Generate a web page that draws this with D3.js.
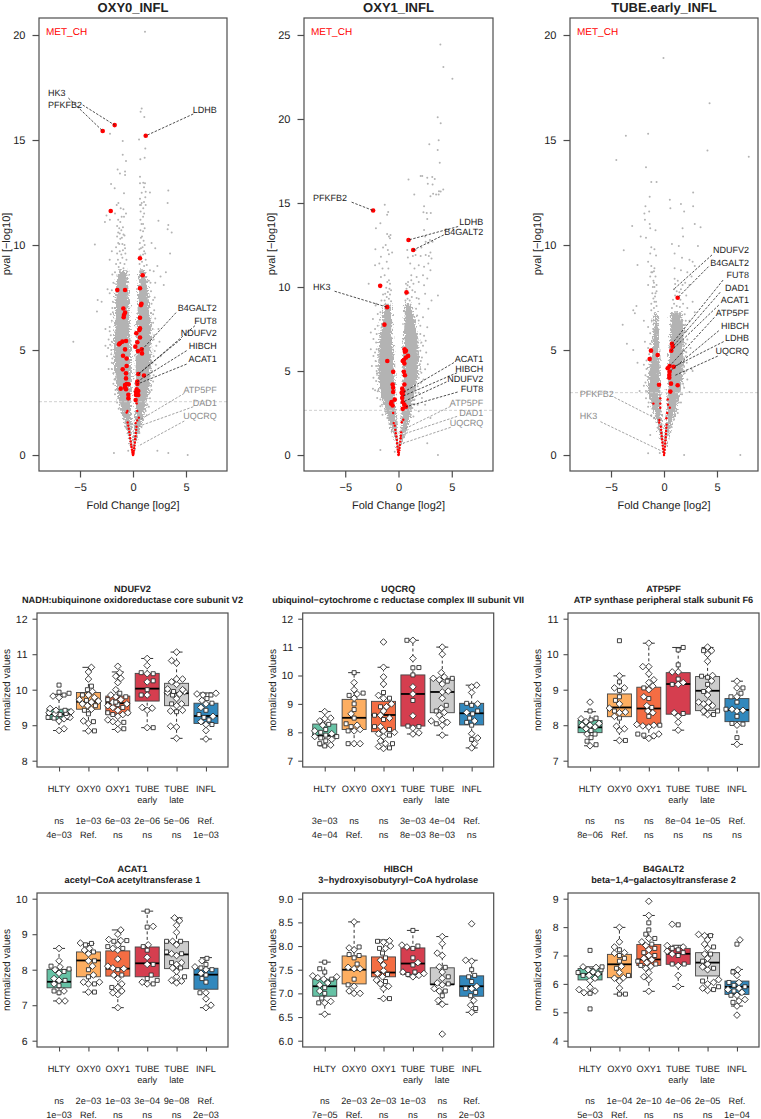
<!DOCTYPE html>
<html><head><meta charset="utf-8">
<script src="https://cdn.jsdelivr.net/npm/d3@7/dist/d3.min.js"></script>
<style>html,body{margin:0;background:#fff}svg{display:block}text{font-family:"Liberation Sans",Arial,sans-serif;fill:#222;text-rendering:geometricPrecision}</style>
</head><body><svg id="c" width="761" height="1119"><defs><filter id="rough" x="-20%" y="-5%" width="140%" height="110%"><feTurbulence type="fractalNoise" baseFrequency="0.55" numOctaves="2" seed="3" result="n"/><feDisplacementMap in="SourceGraphic" in2="n" scale="9" xChannelSelector="R" yChannelSelector="G"/></filter></defs></svg>
<script>
// ---------- volcano data: [log2 fold change, -log10 p] ----------
// dense part of each cloud is kept as an envelope (too many dots to read one by one)
const oxy0Levels=[0,.5,1,1.5,2,3,4,5,6,7,8,8.8];
const oxy0LeftOuter=[0,-.25,-.5,-.75,-1.05,-1.5,-1.75,-1.85,-1.75,-1.7,-1.6,-1.4];
const oxy0LeftInner=[0,-.06,-.12,-.16,-.18,-.2,-.2,-.18,-.3,-.35,-.44,-.55];
const oxy0RightInner=[0,.06,.11,.16,.2,.25,.25,.25,.35,.44,.5,.6];
const oxy0RightOuter=[0,.25,.5,.82,1.04,1.5,1.72,1.72,1.72,1.55,1.4,1.15];
const oxy0Gray=[[1.13,20.16],[.82,16.5],[.72,16.35],[1.07,16.1],[-2.17,15.3],[.57,15.03],[-.97,14.95],[-.97,14.3],[-.66,14],[1.16,14.6],[1.1,14.16],[.69,14.08],[-1.45,13.6],[-.75,13.5],[-.75,13.33],[-1.23,13.4],[.66,13.25],[.66,12.94],[.97,12.97],[1.13,12.94],[-2.07,12.9],[-1.73,12.7],[-.85,12.46],[3.33,12.6],[1.6,12.5],[1.2,12.54],[.82,12.49],[1.04,12.75],[.66,12.2],[1.16,12.27],[3.27,12],[.82,12],[1.04,12.05],[.66,11.9],[.97,11.75],[.72,11.6],[1.2,11.9],[-1.38,12],[-1.16,11.75],[-1.54,11.9],[-1.07,11.35],[-1.7,11.5],[-2.5,11.4],[-2.65,11.1],[-2.18,11.2],[-.66,11.5],[-.85,11.35],[2.4,11.16],[3.33,10.95],[3.27,10.75],[3.65,10.6],[-3.6,10.03],[-1.5,10.9],[-1.3,10.8],[-1.4,10.6],[-1.1,10.7],[-1.5,10.4],[-1.2,10.3],[-.9,10.5],[-1.4,10.1],[-1,10.05],[-1.6,9.9],[-.8,10],[.7,11.2],[.95,11],[1.1,10.8],[.7,10.7],[.85,10.4],[1,10.2],[.65,10.1],[.9,9.9],[1.05,9.7],[.6,9.8],[1.75,10.1],[2.1,9.85],[3.5,9.6],[-2.2,9.3],[-2,9.7],[2.3,9],[3.1,8.7],[2.6,8.5],[2.1,8.2],[2.9,8.1],[1.95,8.75],[-2.4,7.9],[-2.2,7.7],[-3.33,7.38],[-2.96,7.3],[-3.4,6.83],[1.9,7.38],[2,6.9],[2.05,7.5],[2.1,6.5],[1.9,6.3],[-2.1,6.7],[-2.2,6.1],[-5.63,5.4],[-2.3,5.5],[-2.35,5.1],[-2.05,4.8],[-2.2,5.9],[2,5.7],[2.2,5.2],[1.95,4.7],[2.15,4.3],[1.8,4],[-2,4.4],[-1.85,3.9],[-1.85,3.4],[1.9,3.5],[1.75,3.1],[-1.7,2.9],[-1.5,2.5],[-1.35,2.2],[1.6,2.7],[1.5,2.3],[1.3,1.9],[-1.8,.1],[3.33,.1],[5.16,0],[-.45,.2],[2.3,.2]];
const oxy0Fringe=[[-1.6,9.1],[-1.42,9.3],[-1.2,9.15],[-1,9.4],[-.8,9.1],[-.62,9.3],[-1.5,9.6],[-1.25,9.7],[-.95,9.75],[-.72,9.6],[-1.35,8.95],[-.9,8.9],[-1.1,9.55],[-.75,9.85],[-1.3,10.05],[-1.05,10.35],[-.8,10.45],[-1.25,10.55],[-.95,10.85],[-1.2,11.1],[-1.4,11.2],[-.9,11.7],[.62,9.1],[.85,9.2],[1.05,9],[1.2,9.3],[.7,9.5],[.95,9.55],[1.15,9.6],[.75,9.85],[1.3,9.05],[1.1,10],[.75,10.35],[.95,10.65],[.8,11],[.95,11.35],[.75,11.9],[1.05,11.5],[-1.95,8.6],[-1.85,8.2],[-2,7.85],[-1.9,7.3],[-1.95,7],[-2,6.4],[-2.1,5.7],[-2.15,5.25],[-2.05,5],[-1.95,4.6],[-2,4.1],[-1.75,3.6],[-1.65,3.1],[-1.4,2.7],[-1.25,2.4],[-1,2],[-.85,1.7],[-.7,1.35],[-1.7,8.7],[-1.9,6.8],[-2,5.4],[1.6,8.8],[1.5,8.3],[1.7,7.8],[1.75,7.2],[1.9,6.7],[1.85,6],[1.95,5.5],[2.05,4.95],[1.85,4.4],[1.95,3.8],[1.7,3.3],[1.6,3],[1.35,2.4],[1.2,2.1],[.95,1.7],[.8,1.35],[.6,1.05],[1.65,8.2],[2.4,6],[2.5,5.4],[2.6,4.7],[-2.6,5.2],[-2.45,4.7],[-2.3,4.1],[-2.6,6]];
const oxy0Red=[[-2.86,15.43],[-1.73,15.71],[1.2,15.2],[-2.1,11.62],[.66,9.37],[.91,8.56],[.66,7.94],[-1.48,7.86],[-.75,7.86],[.8,7.2],[.75,7.14],[-.91,6.98],[-.75,6.78],[-.85,6.67],[-.88,6.56],[.66,6.54],[.66,6.03],[.6,5.95],[.31,5.8],[.66,5.6],[-.66,5.43],[-1,5.4],[-1.23,5.32],[-1.32,5.27],[.41,5.37],[.22,5.16],[-.75,5.03],[.82,5.03],[.47,4.95],[.85,4.84],[-.94,4.73],[-.6,4.6],[-.97,4.08],[-.6,4.24],[-.66,3.89],[-.66,3.65],[.5,3.86],[1.04,3.79],[.41,3.5],[.41,3.38],[-.75,3.33],[-.6,3.38],[-.41,3.37],[-.75,3.22],[-.66,3.13],[-1.16,3.16],[.35,3.13],[.28,3],[.5,3.05],[.28,2.86],[.5,2.86],[-.44,2.87],[-.44,2.7],[.25,2.62],[.35,2.46],[-.53,2.1],[-.6,2.02],[.4,2.1],[.55,1.78],[.4,1.65],[.25,1.52],[-.5,1.55],[-.45,1.4],[-.4,1.25],[-.35,1.1],[-.3,.95],[-.27,.8],[-.22,.65],[-.18,.5],[-.14,.38],[-.1,.25],[-.06,.15],[-.03,.06],[.33,1.35],[.3,1.2],[.27,1.05],[.24,.9],[.2,.75],[.17,.6],[.14,.45],[.11,.32],[.08,.2],[.05,.1],[.02,.03],[0,0]];
const oxy0Labels=[["HK3",-8.02,17.26,-6.1,17,-2.86,15.43,"start",1],["PFKFB2",-8.02,16.67,-4.75,16.67,-1.73,15.71,"start",1],["LDHB",7.9,16.43,5.69,16.24,1.2,15.2,"end",1],["B4GALT2",7.9,7,4.06,6.78,.82,5,"end",1],["FUT8",7.9,6.38,5.85,6.16,.44,3.81,"end",1],["NDUFV2",7.9,5.8,4.53,5.52,.5,3.86,"end",1],["HIBCH",7.9,5.19,5.06,4.97,.41,3.5,"end",1],["ACAT1",7.9,4.57,5.06,4.33,.41,3.38,"end",1],["ATP5PF",7.9,3.1,4.84,2.94,.5,1.63,"end",0],["DAD1",7.9,2.49,5.69,2.3,.6,1.38,"end",0],["UQCRQ",7.9,1.86,4.84,1.62,.5,.43,"end",0]];

const oxy1Levels=[0,1,2,3,4,5,6,7,8,9];
const oxy1LeftOuter=[0,-.35,-.9,-1.4,-1.8,-1.9,-1.9,-1.8,-1.54,-1.35];
const oxy1LeftInner=[0,-.08,-.18,-.26,-.33,-.38,-.45,-.58,-.6,-.66];
const oxy1RightInner=[0,.12,.26,.33,.38,.4,.4,.5,.57,.6];
const oxy1RightOuter=[0,.5,1,1.3,1.6,1.9,1.9,1.85,1.55,1.2];
const oxy1Gray=[[3.93,24.44],[4.21,23.1],[5.06,22.4],[3.68,20.1],[3.96,19.75],[3.77,18.73],[2.89,18.5],[3.68,18.15],[3.87,17.4],[2.08,16.6],[2.23,16.6],[2.7,16.5],[3.17,16.55],[3.4,16.43],[.94,16.4],[2.75,16.15],[3.2,16.1],[1.48,15.5],[4.2,15.8],[3.8,15.7],[3.96,15.68],[3.25,15.55],[3.53,15.5],[3,15.4],[3.77,15.5],[2.4,14.8],[-1.29,14.9],[-.97,14.46],[-1.07,14.3],[2.34,14.45],[2.65,14.4],[3.03,14.4],[2.7,14.05],[-1.7,13.8],[-2.12,13.5],[2.4,13.4],[-1.07,13.15],[-.75,13.1],[-.9,13],[-.8,12.9],[2.5,13],[2.95,12.8],[3.2,12.7],[2.8,12.6],[2.55,12.7],[2.15,12.35],[-2.17,12.25],[-1.45,12.35],[-1.2,12.5],[-1,12.2],[-.6,12.05],[-.9,11.95],[-1.65,11.8],[.88,11.75],[1.35,11.85],[1.6,11.9],[2.08,11.85],[2.55,11.9],[2.85,11.85],[3,12.05],[.82,12.2],[1.6,12.2],[-2.2,11.3],[-1.8,11.4],[-1.5,11.1],[-1.1,11.5],[-.95,11.1],[-1.3,10.7],[-2.8,10.2],[-1.65,10.6],[-.9,10.4],[1.1,11.4],[1.5,11.1],[1.9,11.3],[2.4,11.2],[2.8,11.4],[3.1,11.7],[3,11],[1.2,10.7],[1.7,10.6],[2.3,10.7],[2.7,10.5],[.9,10.3],[1.4,10.2],[1.9,10.3],[2.4,10.1],[.85,10.1],[-2.1,9],[-1.95,8.4],[3.7,9.5],[3.1,9.2],[2.5,9.6],[1.9,9.3],[2.8,8.7],[2.3,8.2],[2.7,7.6],[2.4,7.1],[-2.4,8.1],[-2.2,7.5],[-2.35,6.9],[-2.6,6.3],[-2.2,6.1],[-2.35,5.9],[2.3,6.5],[2.6,6.1],[2.2,5.8],[2,5.4],[2.5,5.1],[2.15,4.9],[2.35,4.5],[2.1,4.3],[-2.1,5.3],[-2.35,4.6],[-2.4,3.95],[-2.2,3.85],[-2,3.4],[-1.7,2.9],[1.9,3.7],[2.2,3.4],[2.5,3],[1.8,3],[1.9,2.6],[-1.5,2.4],[1.4,2.3],[3,2.2],[2.7,.7],[-1.7,.3],[-.35,.2],[3.7,0]];
const oxy1Fringe=[[-1.3,9.2],[-1.1,9.4],[-.9,9.3],[-.7,9.15],[-1.25,9.6],[-1,9.7],[-.8,9.55],[-1.15,9.95],[-.85,9.9],[-.7,9.8],[-1.05,10.3],[-.8,10.2],[-1.45,9.55],[.65,9.2],[.85,9.3],[1.05,9.2],[1.25,9.4],[.7,9.55],[.95,9.65],[1.3,9.8],[.75,9.9],[1.05,10],[1.55,9.7],[1.7,9.35],[.7,10.2],[1.2,10.4],[-1.6,9.2],[-1.7,8.5],[-1.75,8.05],[-1.95,7.7],[-2.05,7.2],[-2.1,6.7],[-2.05,6.3],[-2.15,5.6],[-2.05,5],[-2.1,4.4],[-1.95,3.8],[-1.7,3.3],[-1.55,3],[-1.25,2.6],[-1.05,2.2],[-.85,1.85],[-.6,1.5],[1.65,8.7],[1.75,8.3],[1.9,8],[2.05,7.7],[2.05,7.2],[2.15,6.7],[2.05,6.2],[2.1,5.6],[2.05,5.1],[1.9,4.6],[1.8,4.1],[1.6,3.7],[1.5,3.3],[1.3,2.8],[1.15,2.4],[.9,1.85],[.75,1.5],[.6,1.2],[2.55,6.8],[2.75,5.4],[-2.5,5.3],[-2.6,7.3],[-2.15,8.9],[1.95,9]];
const oxy1Red=[[-2.38,14.55],[.94,12.8],[1.38,12.2],[-1.72,10.07],[.75,9.68],[-1.07,8.8],[-1.32,7.76],[.57,6.3],[.6,6.15],[.7,6.2],[.9,5.9],[.7,5.8],[.5,5.65],[.4,5.6],[.55,5.45],[-1.05,5.6],[-.5,4.95],[.5,4.95],[.6,4.75],[-.55,4.2],[-.5,4],[.55,4.2],[.35,3.95],[.45,3.8],[.3,3.7],[.4,3.6],[-.5,3.75],[-.35,3.3],[-.65,3.15],[-.7,3.05],[-.55,2.95],[.35,3.4],[.4,3.15],[.55,3],[.7,2.87],[.4,2.75],[-.5,2.5],[-.45,1.9],[-.35,1.75],[.45,2.1],[.3,1.95],[-.3,1.5],[-.25,1.3],[-.2,1.1],[-.16,.9],[-.13,.7],[-.1,.5],[-.07,.32],[-.04,.18],[.25,1.35],[.22,1.15],[.2,1],[.16,.8],[.13,.6],[.1,.42],[.07,.28],[.04,.14],[.01,.04],[0,0]];
const oxy1Labels=[["PFKFB2",-8.02,15.3,-4.4,15.05,-2.38,14.55,"start",1],["LDHB",7.95,13.85,5.6,13.6,.94,12.8,"end",1],["B4GALT2",7.95,13.3,4.25,13.1,1.38,12.2,"end",1],["HK3",-8.02,10,-6,9.75,-1.07,8.8,"start",1],["ACAT1",7.95,5.7,5.2,5.5,.5,3.75,"end",1],["HIBCH",7.95,5.15,5.5,4.9,.4,3.5,"end",1],["NDUFV2",7.95,4.55,4.5,4.35,.4,3.15,"end",1],["FUT8",7.95,3.95,5.55,3.75,.7,2.87,"end",1],["ATP5PF",7.95,3.1,4.9,2.9,.55,1.55,"end",0],["DAD1",7.95,2.5,5.5,2.3,.5,1.25,"end",0],["UQCRQ",7.95,1.9,4.9,1.65,.3,.68,"end",0]];

const tubeLevels=[0,1,2,3,4,5,6,6.8];
const tubeLeftOuter=[0,-.4,-.9,-1.55,-1.45,-1.15,-1,-.95];
const tubeLeftInner=[0,-.08,-.24,-.33,-.4,-.44,-.5,-.58];
const tubeRightInner=[0,.11,.26,.33,.42,.5,.58,.66];
const tubeRightOuter=[0,.45,1.07,1.55,1.85,1.85,1.85,1.65];
const tubeGray=[[-.05,18.9],[4.3,16.75],[-3.6,15.2],[-1.5,15.3],[4.1,14.5],[8,14.2],[-4.5,14.05],[-1.7,13.7],[-1.2,13],[-.7,13],[-1.35,12.3],[.55,12.15],[2.75,12.5],[1.6,11.95],[2.75,11.85],[-1.75,11.85],[-1.4,11.6],[-1.85,11.5],[.6,11.75],[1.9,11.6],[-1.8,11.2],[-1.35,11],[-1.3,10.8],[-.8,10.7],[2.9,11],[1.75,10.8],[3.45,10.85],[-3,10.9],[1.8,10.4],[-2.2,10.4],[-1.7,10.35],[.75,10.05],[1.4,9.95],[3.2,9.95],[-3.8,9.75],[-1.2,9.9],[-.9,9.8],[-1.3,9.6],[-.75,9.5],[1,9.6],[1.7,9.4],[2.4,9.3],[2.7,9.2],[2.9,9],[-2.5,9.05],[-1.5,9.2],[-1.2,9],[-.9,8.9],[-1.1,8.7],[-.8,8.5],[-1.3,8.5],[-1.5,8.1],[-1,8.3],[-.9,8],[1,8.9],[1.6,8.8],[2.2,8.7],[2.6,8.5],[1.3,8.3],[2,8.2],[2.4,8.1],[1.6,7.9],[1,8.4],[-.8,7.7],[-1.1,7.7],[-.9,7.3],[-.7,7.1],[-1.2,7.2],[-2.6,7.1],[-2.9,6.9],[-2.75,6.75],[2.1,7.6],[2.7,7.3],[2.2,7],[2.9,6.8],[2.4,6.4],[2,6.2],[-3.9,6.2],[-1.9,6.4],[-1.5,6.1],[-1.3,5.8],[-3.5,5.3],[-2.9,5],[-1.8,5.4],[-1.5,5.1],[2.2,5.5],[2.5,5.1],[2.05,4.7],[2.6,4.1],[-2.5,4.4],[-1.9,4.3],[-1.75,3.8],[-1.9,3.3],[-2.3,3.05],[2.1,4],[2.7,4],[2.2,3.6],[1.9,3.2],[2.4,3],[-1.7,2.7],[-1.5,2.3],[-1.2,1.9],[1.6,2.5],[1.3,2],[-1.3,.95],[-1.5,.08],[-.4,.1],[1.9,0],[7.2,0]];
const tubeFringe=[[-.95,7],[-.75,7.3],[-.85,7.55],[-.7,7.8],[-1,7.45],[-1.05,8],[-.95,8.2],[-.7,8.1],[-1.2,8.7],[-.95,8.75],[.75,7],[.95,7.2],[1.2,7.1],[1.5,7.05],[.85,7.4],[1.05,7.6],[1.55,7.4],[.95,7.9],[1.2,7.8],[1.45,7.75],[1.05,8.15],[1.75,8.1],[1.8,7.2],[-1.2,6.9],[-1.15,6.4],[-1.3,5.3],[-1.4,4.8],[-1.65,4.5],[-1.65,4.1],[-1.75,3.45],[-1.7,3.05],[-1.45,2.5],[-1.1,2.2],[-.95,1.75],[-.6,1.3],[1.95,6.7],[2.05,6.4],[2.1,5.9],[2.05,5.3],[2.1,4.9],[2.15,4.4],[1.95,3.9],[1.8,3.4],[1.7,2.9],[1.4,2.5],[1.15,2.1],[.95,1.7],[.7,1.35],[.6,1.1]];
const tubeRed=[[1.29,7.49],[.75,5.3],[.82,5.16],[.69,4.97],[-1.23,4.97],[-.6,4.76],[-1.35,4.57],[.53,4.24],[.35,4.13],[.91,4.2],[.53,3.97],[.5,3.81],[.5,3.68],[.66,3.4],[1.29,3.32],[-.47,3.35],[.6,3.02],[-1,2.45],[-.35,2.7],[-.35,2.45],[-.35,2.25],[.35,2.65],[.38,2.4],[.55,2.25],[.3,2],[.22,1.75],[-.45,1.67],[-.45,1.55],[-.3,1.35],[-.28,1.2],[-.25,1.05],[-.22,.9],[-.18,.75],[-.15,.6],[-.12,.45],[-.09,.3],[-.05,.16],[.25,1.45],[.22,1.3],[.2,1.15],[.18,1],[.16,.85],[.13,.7],[.11,.55],[.09,.4],[.06,.25],[.03,.1],[0,0]];
const tubeLabels=[["NDUFV2",8.02,9.79,4.53,9.53,.85,7.86,"end",1],["B4GALT2",8.02,9.16,4.2,8.97,1.29,7.49,"end",1],["FUT8",8.02,8.57,5.57,8.33,.75,5.3,"end",1],["DAD1",8.02,7.97,5.3,7.75,.82,5.16,"end",1],["ACAT1",8.02,7.38,5.17,7.14,.69,4.97,"end",1],["ATP5PF",8.02,6.78,4.75,6.55,.53,4.24,"end",1],["HIBCH",8.02,6.17,5.17,5.92,.53,3.97,"end",1],["LDHB",8.02,5.59,5.63,5.4,.91,4.2,"end",1],["UQCRQ",8.02,4.97,5.07,4.71,1.07,3.8,"end",1],["PFKFB2",-7.96,2.89,-4.69,2.75,-.5,1.67,"start",0],["HK3",-7.96,1.86,-6,1.59,-.1,.16,"start",0]];

const volcanoNames=["OXY0_INFL","OXY1_INFL","TUBE.early_INFL"];
const volcanoYTicks=[[0,5,10,15,20],[0,5,10,15,20,25],[0,5,10,15,20]];
const volcanoThresholds=[2.54,2.66,2.97];
const volcanoYTop=[20.81,26.01,20.81];
const volcanoYBottom=[-.76,-.95,-.76];
const fcTicks=[-5,0,5];

// ---------- boxplot data ----------
const groupLabels=[["HLTY"],["OXY0"],["OXY1"],["TUBE","early"],["TUBE","late"],["INFL"]];
const groupColors=["#66c2a5","#fdae61","#f46d43","#d53e4f","#cccccc","#3288bd"];
const geneNames=["NDUFV2","UQCRQ","ATP5PF","ACAT1","HIBCH","B4GALT2"];
const geneTitles=["NADH:ubiquinone oxidoreductase core subunit V2","ubiquinol\u2212cytochrome c reductase complex III subunit VII","ATP synthase peripheral stalk subunit F6","acetyl\u2212CoA acetyltransferase 1","3\u2212hydroxyisobutyryl\u2212CoA hydrolase","beta\u22121,4\u2212galactosyltransferase 2"];
const geneTicks=[[8,9,10,11,12],[7,8,9,10,11,12],[7,8,9,10,11],[6,7,8,9,10],[6,6.5,7,7.5,8,8.5,9],[4,5,6,7,8,9]];
const pRow1=[["ns","1e\u221203","6e\u221203","2e\u221206","5e\u221206","Ref."],["3e\u221203","ns","ns","3e\u221203","4e\u221204","Ref."],["ns","ns","ns","8e\u221204","1e\u221205","Ref."],["ns","2e\u221203","1e\u221203","3e\u221204","9e\u221208","Ref."],["ns","2e\u221203","2e\u221203","1e\u221203","ns","Ref."],["ns","1e\u221204","2e\u221210","4e\u221206","2e\u221205","Ref."]];
const pRow2=[["4e\u221203","Ref.","ns","ns","ns","1e\u221203"],["4e\u221204","Ref.","ns","8e\u221203","8e\u221203","ns"],["8e\u221206","Ref.","ns","ns","ns","ns"],["1e\u221203","Ref.","ns","ns","ns","2e\u221203"],["7e\u221205","Ref.","ns","ns","ns","2e\u221203"],["5e\u221203","Ref.","ns","ns","ns","1e\u221204"]];
// whisker low, Q1, median, Q3, whisker high
const boxNDUFV2=[[8.85,9.16,9.31,9.45,9.87],[8.84,9.45,9.66,9.92,10.63],[8.88,9.31,9.62,9.82,10.5],[8.93,9.68,10.03,10.46,10.88],[8.63,9.55,9.9,10.18,11.06],[8.61,9.05,9.26,9.62,9.91]];
const boxUQCRQ=[[7.52,7.88,7.88,8.29,8.73],[7.6,8.1,8.51,9.16,10.1],[7.43,8.02,8.61,9.09,10.29],[7.94,8.22,9.35,10.02,11.24],[7.9,8.69,9.42,9.9,11],[7.45,8.26,8.67,9.02,9.66]];
const boxATP5PF=[[7.42,7.79,7.94,8.13,8.38],[7.57,8.24,8.5,8.88,9.39],[7.63,8,8.47,9.07,10.31],[7.86,8.31,9.16,9.48,10.19],[8.29,8.41,8.97,9.37,10.19],[7.46,8.1,8.43,8.75,9.24]];
const boxACAT1=[[7.12,7.49,7.66,8.01,8.6],[7.37,7.8,8.26,8.5,8.74],[6.93,7.82,8.03,8.53,9.12],[7.6,7.8,8.18,8.64,9.65],[7.63,8.03,8.43,8.79,9.46],[6.93,7.45,7.86,8.04,8.34]];
const boxHIBCH=[[6.56,6.94,7.15,7.3,7.66],[7,7.2,7.5,7.79,8.51],[6.89,7.35,7.44,7.77,8.13],[7.35,7.4,7.63,7.96,8.33],[6.77,7.19,7.19,7.54,8.2],[6.6,6.94,7.15,7.37,7.7]];
const boxB4GALT2=[[5.69,6.14,6.34,6.54,6.6],[5.64,6.22,6.69,7.04,7.99],[5.74,6.65,6.86,7.39,8.41],[5.91,6.69,7.06,7.25,7.36],[5.77,6.28,6.75,7.1,7.74],[5.22,5.63,5.9,6.1,6.51]];
// per group: diamonds (one marker), squares (the other)
const diaNDUFV2=[[8.85,8.9,9.12,9.18,9.22,9.26,9.3,9.32,9.35,9.38,9.42,9.47,9.78,9.82],[8.84,9.05,9.12,9.45,9.55,9.6,9.65,9.68,9.72,9.78,9.85,9.95,10.3,10.5,10.63],[8.88,9.05,9.1,9.15,9.25,9.3,9.35,9.42,9.5,9.55,9.6,9.65,9.72,9.8,9.85,10,10.2,10.32,10.38,10.48,10.66],[8.93,9.42,9.48,9.5,9.85,10.22,10.45,10.68,10.88],[8.63,8.95,8.97,9.4,9.42,9.55,9.6,9.75,9.88,9.92,9.95,10,10.02,10.15,10.22,10.3,10.3,10.75,10.82,11.06],[8.61,8.85,9.02,9.1,9.25,9.5,9.6,9.7,9.85,9.9,9.88]];
const sqNDUFV2=[[9.2,9.22,9.3,9.33,9.42,9.85,9.9,9.93,10.13],[8.84,9.1,9.32,9.42,9.55,9.7,9.85,10,10.1],[8.9,9.08,9.3,9.35,9.5,9.58,9.65,9.72,9.8,9.9],[8.93,9.85,10,10.25,10.45,10.48],[9.38,9.6,9.85,9.95],[9.02,9.15,9.22,9.3,9.42,9.62,9.75,9.85]];
const diaUQCRQ=[[7.55,7.75,7.85,7.95,8.05,8.25,8.4,8.5,8.48,8.73],[7.6,7.6,8.05,8.1,8.25,8.65,9.2,9.35,9.5,9.75],[7.43,7.5,7.6,7.7,7.85,7.95,8,8.05,8.2,8.5,8.6,8.75,8.9,9,9.2,9.3,9.7,9.95,10.29,11.18],[7.94,7.98,8.15,8.58,9.35,9.6,10.6,11.24],[7.9,8.25,8.35,8.4,8.45,8.6,8.7,8.85,9.2,9.42,9.45,9.7,9.85,9.9,9.95,10.1,10.75,11],[7.45,7.6,7.8,7.95,8.4,8.7,9,9.4,9.6,9.66]];
const sqUQCRQ=[[7.52,7.6,7.7,7.8,7.85,7.9,8,8.1,8.28],[7.6,8.05,8.2,8.3,8.5,8.8,9,9.3,9.38,10.1],[7.45,7.6,7.9,8.1,8.2,8.45,8.6,8.9,9.2,9.4],[8.2,8.22,9.12,10.02,10.27,10.28,11.24],[8.3,8.75,8.95,9.8,9.9],[7.75,8.25,8.35,8.5,8.65,8.75,8.95,9.02]];
const diaATP5PF=[[7.42,7.75,7.9,7.95,8,8,8.05,8.1,8.18,8.65],[7.57,7.85,7.9,7.97,8.25,8.35,8.37,8.48,8.6,9.05,9.05,9.39],[7.63,7.7,7.75,7.95,7.98,8,8.02,8.35,8.4,8.55,8.8,9,9.1,9.2,9.28,9.45,9.65,9.65,10.31],[7.86,8.08,8.25,8.35,9.15,9.2,9.5,9.5],[8.3,8.4,8.5,8.55,8.6,8.65,8.65,8.85,9,9.25,9.4,9.8,10,10.1,10.2],[7.46,8,8.4,8.42,8.45,8.8,9.05,9.24]];
const sqATP5PF=[[7.45,7.55,7.65,7.75,7.85,8.15,8.2,8.4],[7.57,8.2,8.4,8.7,8.8,8.98,9.22,10.38],[7.75,7.72,8,8.25,8.5,8.75,9.05],[8.33,9.15,9.3,9.7,10.12,10.19],[8.3,8.4,8.95,9.15,9.35,9.38,10.1],[7.65,8.03,8.05,8.25,8.45,8.65,8.8,8.9,9.05]];
const diaACAT1=[[7.12,7.12,7.4,7.6,7.7,7.75,7.9,8,8.08,8.25,8.6],[7.37,7.6,7.65,7.65,7.85,8.1,8.25,8.45,8.55,8.6,8.75],[6.93,7.3,7.35,7.4,7.5,7.6,7.75,7.85,8.03,8.05,8.1,8.3,8.55,8.6,8.7,8.82,8.85,9,9.12],[7.6,7.65,8.15,8.35,8.7,9.22],[7.63,7.68,7.7,7.8,7.95,8.05,8.15,8.2,8.4,8.45,8.7,8.8,9.05,9.25,9.38,9.46],[6.93,7,7.18,7.35,7.9,8,8.08,8.25]];
const sqACAT1=[[7.35,7.4,7.55,7.7,7.95,8.02,8.1],[7.37,7.6,7.8,8,8.25,8.5,8.7,8.74],[7.5,7.85,8,8.6,8.65,8.8,8.82],[7.6,7.7,7.75,7.85,8.15,8.55,8.65,9.2,9.65],[7.8,8.05,8.2,8.45,8.5,8.8,8.8],[7.35,7.65,7.75,7.85,8,8.05,8.15,8.32]];
const diaHIBCH=[[6.56,6.8,6.83,7.05,7.18,7.22,7.3,7.33,7.35,7.37],[7,7,7.05,7.15,7.52,7.52,7.55,7.92,7.96,8.51],[6.89,7.1,7.15,7.2,7.28,7.35,7.42,7.48,7.6,7.7,7.95,8,8.08,8.11],[7.35,7.38,7.42,7.45,7.65,7.98,8.02],[6.14,6.77,6.85,7.05,7.1,7.18,7.22,7.32,7.45,7.56,7.8,7.85,8.05,8.2],[6.6,6.75,6.85,7.1,7.15,7.7,7.68,8.47]];
const sqHIBCH=[[6.8,6.9,7,7.12,7.3,7.45,7.52,7.66],[7.18,7.3,7.62,7.75,7.8,7.82,7.98],[6.89,7.25,7.4,7.75,7.85,7.95,8.1],[7.4,7.45,7.6,7.75,7.95,8,8.33],[6.95,7.05,7.2,7.35,7.55],[6.68,6.95,7.02,7.1,7.25,7.35,7.38,7.5]];
const diaB4GALT2=[[5.69,5.75,5.8,5.88,6.12,6.2,6.3,6.35,6.42,6.5,6.58,6.6],[5.85,6.1,6.2,6.22,6.4,6.62,7.08,7.1,7.3,7.48,7.99],[5.74,6.15,6.25,6.4,6.55,6.62,6.75,6.85,6.9,7,7.2,7.35,7.48,7.6,8.41,8.91],[5.91,6.3,6.65,7.05,7.15,7.3,7.35,8.1],[5.77,5.85,6,6.05,6.15,6.5,6.6,6.7,6.9,7.05,7.25,7.4,7.55,7.7,7.74],[4.9,5.22,5.4,5.45,5.6,5.7,5.8,5.85,6.05,6.3,6.5,7.55]];
const sqB4GALT2=[[5.12,5.67,6.3,6.4,6.5,6.6,7.18],[5.64,5.64,6.3,6.55,6.8,6.9,7,7.2],[6.65,6.7,6.8,7,7.1,7.25,7.4,7.6,7.75,7.9,8.15],[6.7,6.7,7,7.1,7.2,7.25,8.08],[5.8,5.9,6.1,6.55,6.8,7.05,7.3,7.7],[5.35,5.6,5.75,5.9,5.95,6.05,6.42,7.4]];

const boxStats=[boxNDUFV2,boxUQCRQ,boxATP5PF,boxACAT1,boxHIBCH,boxB4GALT2];
const diamonds=[diaNDUFV2,diaUQCRQ,diaATP5PF,diaACAT1,diaHIBCH,diaB4GALT2];
const squares=[sqNDUFV2,sqUQCRQ,sqATP5PF,sqACAT1,sqHIBCH,sqB4GALT2];

// ---------- drawing ----------
const svg=d3.select("#c");
const minus=s=>String(s).replace(/-/g,"\u2212");
const frameColor="#4d4d4d",labelGray="#8c8c8c",red="#ff0000";
const volcanoData=[
 {lv:oxy0Levels,lo:oxy0LeftOuter,li:oxy0LeftInner,ri:oxy0RightInner,ro:oxy0RightOuter,g:oxy0Gray.concat(oxy0Fringe),r:oxy0Red,l:oxy0Labels},
 {lv:oxy1Levels,lo:oxy1LeftOuter,li:oxy1LeftInner,ri:oxy1RightInner,ro:oxy1RightOuter,g:oxy1Gray.concat(oxy1Fringe),r:oxy1Red,l:oxy1Labels},
 {lv:tubeLevels,lo:tubeLeftOuter,li:tubeLeftInner,ri:tubeRightInner,ro:tubeRightOuter,g:tubeGray.concat(tubeFringe),r:tubeRed,l:tubeLabels}];
const volcanoFrames=[[39,227],[304,493],[570,758]];
const vTop=18,vBottom=471;

volcanoData.forEach((d,i)=>{
  const [L,R]=volcanoFrames[i];
  const x=d3.scaleLinear().domain([-8.87,8.87]).range([L,R]);
  const y=d3.scaleLinear().domain([volcanoYBottom[i],volcanoYTop[i]]).range([vBottom,vTop]);
  const g=svg.append("g");
  const area=(outer,inner)=>d3.area().y((_,k)=>y(d.lv[k])).x0((_,k)=>x(outer[k])).x1((_,k)=>x(inner[k]))(d.lv);
  const cloud=g.append("g").attr("filter","url(#rough)");
  cloud.append("path").attr("d",area(d.lo,d.li)).attr("fill","#b3b3b3");
  cloud.append("path").attr("d",area(d.ri,d.ro)).attr("fill","#b3b3b3");
  g.selectAll("circle.gray").data(d.g).join("circle").attr("class","gray").attr("cx",p=>x(p[0])).attr("cy",p=>y(p[1])).attr("r",1).attr("fill","#b3b3b3");
  g.append("line").attr("x1",L).attr("x2",R).attr("y1",y(volcanoThresholds[i])).attr("y2",y(volcanoThresholds[i])).attr("stroke","#d0d0d0").attr("stroke-width",1).attr("stroke-dasharray","3,2");
  g.selectAll("circle.red").data(d.r).join("circle").attr("class","red").attr("cx",p=>x(p[0])).attr("cy",p=>y(p[1])).attr("r",p=>p[1]>volcanoThresholds[i]?2.3:1.2).attr("fill",red);
  g.selectAll("line.seg").data(d.l).join("line").attr("class","seg").attr("x1",p=>x(p[3])).attr("y1",p=>y(p[4])).attr("x2",p=>x(p[5])).attr("y2",p=>y(p[6])).attr("stroke",p=>p[8]?"#222":labelGray).attr("stroke-width",.8).attr("stroke-dasharray","2.5,1.5");
  g.selectAll("text.lab").data(d.l).join("text").attr("class","lab").attr("x",p=>x(p[1])).attr("y",p=>y(p[2])).attr("dy","0.35em").attr("text-anchor",p=>p[7]).attr("font-size",9).style("fill",p=>p[8]?"#222":labelGray).text(p=>p[0]);
  g.append("rect").attr("x",L).attr("y",vTop).attr("width",R-L).attr("height",vBottom-vTop).attr("fill","none").attr("stroke",frameColor).attr("stroke-width",1.2);
  const ax=g.append("g").attr("transform",`translate(0,${vBottom})`).call(d3.axisBottom(x).tickValues(fcTicks).tickSize(6.5).tickPadding(6).tickFormat(minus));
  const ay=g.append("g").attr("transform",`translate(${L},0)`).call(d3.axisLeft(y).tickValues(volcanoYTicks[i]).tickSize(6.5).tickPadding(7).tickFormat(minus));
  [ax,ay].forEach(a=>{a.select(".domain").remove();a.selectAll("line").attr("stroke",frameColor).attr("stroke-width",1.2);a.selectAll("text").attr("font-size",11).attr("font-family",null);});
  g.append("text").attr("x",(L+R)/2).attr("y",11.5).attr("text-anchor","middle").attr("font-size",13).attr("font-weight","bold").text(volcanoNames[i]);
  g.append("text").attr("x",L+7).attr("y",35).attr("font-size",10).style("fill",red).text("MET_CH");
  g.append("text").attr("x",(L+R)/2).attr("y",509).attr("text-anchor","middle").attr("font-size",11).text("Fold Change [log2]");
  g.append("text").attr("transform",`translate(${L-29},244) rotate(-90)`).attr("text-anchor","middle").attr("font-size",11).text("pval [\u2212log10]");
});

const colLefts=[37,302.7,568],rowTops=[613,893],boxW=191,boxH=154;
geneNames.forEach((name,i)=>{
  const L=colLefts[i%3],T=rowTops[i<3?0:1],B=T+boxH,R=L+boxW;
  const g=svg.append("g");
  const x=d3.scaleLinear().domain([.25,6.75]).range([L,R]);
  const t=geneTicks[i];
  const y=d3.scaleLinear().domain([t[0],t[t.length-1]]).range([B-6.3,T+5.7]);
  const bw=12;
  boxStats[i].forEach((s,k)=>{
    const cx=x(k+1),col=groupColors[k];
    const [lo,q1,med,q3,hi]=s;
    g.append("line").attr("x1",cx).attr("x2",cx).attr("y1",y(lo)).attr("y2",y(hi)).attr("stroke","#333").attr("stroke-width",1).attr("stroke-dasharray","3,2.5");
    [lo,hi].forEach(v=>g.append("line").attr("x1",cx-6).attr("x2",cx+6).attr("y1",y(v)).attr("y2",y(v)).attr("stroke","#333").attr("stroke-width",1));
    g.append("rect").attr("x",cx-bw).attr("y",y(q3)).attr("width",bw*2).attr("height",y(q1)-y(q3)).attr("fill",col).attr("stroke","#444").attr("stroke-width",.9);
    g.append("line").attr("x1",cx-bw).attr("x2",cx+bw).attr("y1",y(med)).attr("y2",y(med)).attr("stroke","#000").attr("stroke-width",1.8);
    // deterministic swarm layout of the read values
    const pts=[...diamonds[i][k].map(v=>({v,m:"d"})),...squares[i][k].map(v=>({v,m:"s"}))].sort((a,b)=>a.v-b.v);
    const placed=[];
    pts.forEach((p,n)=>{
      const py=y(p.v);let off=0;
      const sign=n%2?1:-1;
      for(let a=0;a<=12;a+=1){
        const cand=[sign*a,-sign*a].find(c=>placed.every(q=>Math.hypot(q.o-c,q.py-py)>=5.2));
        if(cand!==undefined){off=cand;break;}
        off=sign*((n*3)%13);
      }
      placed.push({o:off,py,m:p.m});
    });
    g.selectAll(null).data(placed).join("path")
      .attr("d",p=>d3.symbol(p.m==="s"?d3.symbolSquare:d3.symbolDiamond2,p.m==="s"?16:28)())
      .attr("transform",p=>`translate(${cx+p.o},${p.py})`).attr("fill","#fff").attr("stroke","#2e2e2e").attr("stroke-width",.9);
  });
  g.append("rect").attr("x",L).attr("y",T).attr("width",boxW).attr("height",boxH).attr("fill","none").attr("stroke",frameColor).attr("stroke-width",1.2);
  const ax=g.append("g").attr("transform",`translate(0,${B})`).call(d3.axisBottom(x).tickValues([1,2,3,4,5,6]).tickSize(4.5).tickFormat(""));
  const fmt=i===4?d3.format(".1f"):d3.format("d");
  const ay=g.append("g").attr("transform",`translate(${L},0)`).call(d3.axisLeft(y).tickValues(t).tickSize(4.5).tickPadding(5).tickFormat(fmt));
  [ax,ay].forEach(a=>{a.select(".domain").remove();a.selectAll("line").attr("stroke",frameColor).attr("stroke-width",1.1);a.selectAll("text").attr("font-size",10.5).attr("font-family",null);});
  const cx=(L+R)/2;
  g.append("text").attr("x",cx).attr("y",T-21).attr("text-anchor","middle").attr("font-size",9.2).attr("font-weight","bold").text(name);
  g.append("text").attr("x",cx).attr("y",T-10).attr("text-anchor","middle").attr("font-size",9.2).attr("font-weight","bold").text(geneTitles[i]);
  g.append("text").attr("transform",`translate(${L-27},${(T+B)/2}) rotate(-90)`).attr("text-anchor","middle").attr("font-size",10.2).text("normalized values");
  groupLabels.forEach((gl,k)=>{
    gl.forEach((s,j)=>g.append("text").attr("x",x(k+1)).attr("y",B+24.5+j*11).attr("text-anchor","middle").attr("font-size",9.2).text(s));
    g.append("text").attr("x",x(k+1)).attr("y",B+56.5).attr("text-anchor","middle").attr("font-size",9.2).text(pRow1[i][k]);
    g.append("text").attr("x",x(k+1)).attr("y",B+70.5).attr("text-anchor","middle").attr("font-size",9.2).text(pRow2[i][k]);
  });
});
</script></body></html>
